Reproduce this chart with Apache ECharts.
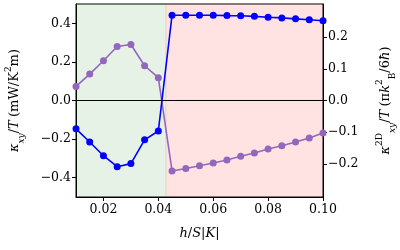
<!DOCTYPE html>
<html><head><meta charset="utf-8">
<script src="https://cdn.jsdelivr.net/npm/echarts@6/dist/echarts.min.js"></script>
<style>html,body{margin:0;padding:0;background:#fff}#c{width:400px;height:250px}</style>
</head><body><div id="c"></div>
<script>
const hValues = [0.010,0.015,0.020,0.025,0.030,0.035,0.040,0.045,0.050,0.055,0.060,0.065,0.070,0.075,0.080,0.085,0.090,0.095,0.100];
const kappaBlue = [-0.147,-0.215,-0.286,-0.343,-0.327,-0.204,-0.158,0.442,0.442,0.442,0.442,0.440,0.439,0.436,0.431,0.428,0.423,0.418,0.413];
const kappaPurple = [0.073,0.137,0.206,0.280,0.290,0.180,0.118,-0.365,-0.352,-0.338,-0.324,-0.308,-0.289,-0.272,-0.251,-0.234,-0.215,-0.194,-0.168];
const xTicks = [0.02,0.04,0.06,0.08,0.10];
const yLeftTicks = [-0.4,-0.2,0.0,0.2,0.4];
const yRightTicks = [-0.2,-0.1,0.0,0.1,0.2];
const greenRegion = [0.010,0.0430];
const pinkRegion = [0.0425,0.100];

const F = 'DejaVu Serif';
const fmt = d => v => (v<0?'\u2212':'') + Math.abs(v).toFixed(d);
const richBase = {
  i:{fontFamily:F,fontStyle:'italic',fontSize:13,lineHeight:22,color:'#000'},
  n:{fontFamily:F,fontSize:13,lineHeight:22,color:'#000'},
  sub:{fontFamily:F,fontStyle:'italic',fontSize:9,lineHeight:9,verticalAlign:'bottom',color:'#000'},
  subn:{fontFamily:F,fontSize:9,lineHeight:9,verticalAlign:'bottom',color:'#000'},
  sup:{fontFamily:F,fontSize:9,lineHeight:9,verticalAlign:'top',color:'#000'}
};
const toPairs = arr => hValues.map((h,i)=>[h,arr[i]]);
const chart = echarts.init(document.getElementById('c'), null, {renderer:'canvas'});
const axisCommon = {
  axisLine:{show:true,onZero:false,lineStyle:{color:'#000',width:1}},
  axisTick:{show:true,inside:false,length:4,lineStyle:{color:'#000',width:1}},
  splitLine:{show:false},
  axisLabel:{fontFamily:F,fontSize:12.5,color:'#000',margin:5}
};
chart.setOption({
  animation:false,
  grid:{left:76,right:77,top:4,bottom:53,containLabel:false,outerBoundsMode:'none',show:true,borderColor:'#000',borderWidth:1,backgroundColor:'transparent'},
  xAxis:{type:'value',min:0.01,max:0.10,
    ...axisCommon,
    axisTick:{...axisCommon.axisTick,customValues:xTicks},
    axisLabel:{...axisCommon.axisLabel,customValues:xTicks,formatter:fmt(2),margin:6},
    name:'{i|h}{n|/}{i|S}{n||}{i|K}{n||}',nameLocation:'middle',nameGap:26,
    nameTextStyle:{rich:richBase}
  },
  yAxis:[{type:'value',min:-0.5,max:0.5,position:'left',
    ...axisCommon,
    axisTick:{...axisCommon.axisTick,customValues:yLeftTicks},
    axisLabel:{...axisCommon.axisLabel,customValues:yLeftTicks,formatter:fmt(1)},
    name:'{i|κ}{sub|xy}{n|/}{i|T} {n|(mW/K}{sup|2}{n|m)}',nameLocation:'middle',nameGap:50,nameRotate:90,
    nameTextStyle:{rich:richBase}
  },{type:'value',min:-0.305,max:0.305,position:'right',
    ...axisCommon,
    axisTick:{...axisCommon.axisTick,customValues:yRightTicks},
    axisLabel:{...axisCommon.axisLabel,customValues:yRightTicks,formatter:fmt(1)},
    name:'{i|κ}{sup|2D}{sub|xy}{n|/}{i|T} {n|(π}{i|k}{sup|2}{subn|B}{n|/6}{i|ħ}{n|)}',nameLocation:'middle',nameGap:52,nameRotate:90,
    nameTextStyle:{rich:richBase}
  }],
  series:[
    {type:'line',data:toPairs(kappaPurple),yAxisIndex:0,symbol:'circle',symbolSize:7,
      itemStyle:{color:'#9467bd'},lineStyle:{color:'#9467bd',width:1.6},z:3,
      markArea:{silent:true,data:[
        [{xAxis:greenRegion[0],itemStyle:{color:'rgba(0,128,0,0.1)'}},{xAxis:greenRegion[1]}],
        [{xAxis:pinkRegion[0],itemStyle:{color:'rgba(255,0,0,0.11)'}},{xAxis:pinkRegion[1]}]
      ]},
      markLine:{silent:true,symbol:'none',label:{show:false},lineStyle:{color:'#000',width:1,type:'solid'},data:[{yAxis:0}]}
    },
    {type:'line',data:toPairs(kappaBlue),yAxisIndex:0,symbol:'circle',symbolSize:7,
      itemStyle:{color:'#0000ff'},lineStyle:{color:'#0000ff',width:1.6},z:4}
  ]
});
</script></body></html>
